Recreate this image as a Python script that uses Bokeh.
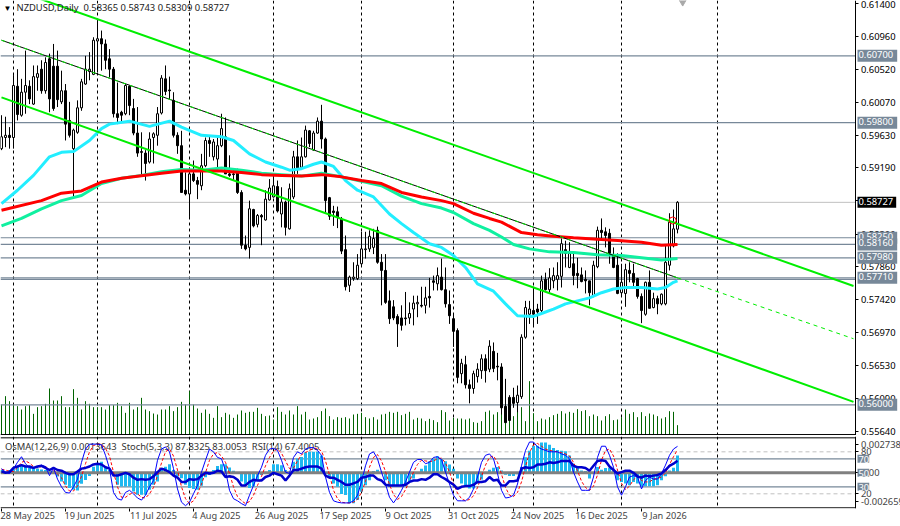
from bokeh.plotting import figure
from bokeh.layouts import column
from bokeh.models import FixedTicker, Label, Range1d, Span
from bokeh.core.properties import value
from bokeh.embed import file_html
from bokeh.resources import INLINE

# ---- data; prices in 1/10000 ----
opens = [5945,5960,5963,5960,6029,5990,6021,6029,6005,6041,
 6052,6023,6066,6056,6056,6008,6023,5983,5945,5967,
 6000,6032,6049,6045,6090,6093,6086,6066,6052,5992,
 5994,5992,6029,5999,5966,5941,5939,5927,5960,5963,
 5993,6039,6024,6010,5963,5949,5889,5884,5911,5902,
 5895,5922,5956,5934,5931,5949,5961,5911,5911,5916,
 5886,5815,5812,5863,5843,5855,5849,5876,5880,5894,
 5857,5873,5837,5880,5934,5920,5934,5969,5943,5966,
 5982,5958,5879,5861,5860,5850,5809,5761,5770,5770,
 5790,5809,5810,5812,5835,5792,5781,5740,5732,5719,
 5717,5717,5717,5729,5736,5734,5734,5746,5767,5763,
 5772,5755,5735,5716,5700,5642,5654,5627,5622,5638,
 5646,5662,5648,5672,5652,5651,5598,5610,5610,5603,
 5611,5691,5722,5727,5729,5727,5769,5755,5767,5769,
 5773,5809,5785,5790,5777,5775,5769,5767,5747,5786,
 5835,5833,5831,5801,5788,5751,5750,5781,5777,5770,
 5746,5722,5765,5731,5743,5736,5736,5788,5814,5836.5]
highs = [5990,5988,5974,6044,6052,6039,6077,6037,6057,6057,
 6064,6068,6073,6086,6077,6050,6032,6008,5972,6010,
 6039,6070,6075,6095,6118,6104,6092,6079,6055,6034,
 5996,6032,6030,6012,6001,5967,5943,5967,5967,6001,
 6044,6057,6042,6021,5967,5969,5913,5920,5929,5907,
 5938,5960,5963,5958,5963,5992,5987,5936,5916,5918,
 5889,5828,5875,5864,5857,5857,5889,5904,5907,5902,
 5893,5875,5898,5942,5956,5960,5976,5970,5969,5987,
 6004,5960,5880,5868,5867,5853,5828,5774,5792,5803,
 5833,5833,5835,5837,5840,5803,5803,5754,5741,5722,
 5734,5752,5738,5747,5747,5759,5759,5771,5774,5785,
 5797,5785,5754,5723,5703,5662,5666,5634,5646,5656,
 5668,5668,5687,5684,5670,5656,5635,5613,5623,5626,
 5695,5740,5740,5759,5736,5774,5778,5784,5785,5792,
 5824,5821,5819,5804,5798,5785,5781,5767,5794,5840,
 5851,5839,5837,5812,5804,5790,5790,5792,5790,5771,
 5750,5766,5781,5751,5747,5750,5815,5858,5863,5874.3]
lows = [5943,5947,5945,5945,5983,5988,5992,6005,6004,6023,
 6019,6019,5994,5996,6001,6005,5956,5960,5880,5965,
 5996,6031,6037,6044,6048,6050,6052,6041,5987,5978,
 5981,5990,5990,5963,5934,5909,5902,5925,5925,5949,
 5991,6017,6012,5960,5938,5886,5882,5853,5900,5877,
 5889,5920,5934,5929,5916,5947,5911,5907,5902,5884,
 5810,5808,5797,5839,5839,5815,5848,5875,5879,5859,
 5839,5828,5836,5877,5911,5918,5933,5947,5942,5965,
 5945,5859,5849,5841,5838,5803,5754,5752,5767,5768,
 5788,5797,5806,5803,5790,5734,5736,5709,5714,5678,
 5700,5707,5709,5707,5718,5731,5723,5731,5754,5754,
 5754,5731,5709,5678,5629,5629,5622,5602,5615,5630,
 5635,5630,5644,5644,5633,5587,5576,5579,5596,5590,
 5608,5689,5709,5707,5709,5725,5754,5751,5757,5754,
 5758,5785,5784,5761,5757,5765,5750,5734,5745,5784,
 5821,5812,5790,5784,5749,5747,5732,5765,5758,5743,
 5710,5720,5730,5730,5722,5734,5734,5781,5812,5830.9]
closes = [5961,5963,5960,6030,5991,6021,6030,6012,6042,6046,
 6023,6061,6012,5999,6011,6023,5978,5963,5970,6000,
 6035,6052,6052,6091,6093,6086,6064,6052,5992,5987,
 5990,6030,6003,5966,5939,5940,5925,5958,5965,5992,
 6040,6022,6023,5963,5949,5886,5884,5911,5902,5897,
 5922,5956,5952,5954,5949,5972,5911,5909,5910,5886,
 5815,5810,5864,5841,5855,5853,5877,5892,5895,5861,
 5873,5839,5891,5934,5919,5934,5970,5952,5966,5982,
 5958,5875,5854,5859,5853,5807,5759,5772,5772,5788,
 5810,5810,5827,5824,5792,5781,5738,5716,5717,5709,
 5707,5716,5723,5737,5738,5733,5744,5744,5765,5774,
 5755,5736,5720,5699,5637,5656,5627,5622,5642,5648,
 5662,5646,5679,5649,5651,5596,5576,5579,5602,5613,
 5691,5731,5729,5722,5725,5767,5755,5771,5774,5774,
 5817,5804,5804,5774,5774,5766,5767,5751,5788,5835,
 5832,5828,5804,5785,5750,5765,5782,5777,5765,5746,
 5727,5765,5730,5743,5736,5749,5792,5846,5837,5872.7]
volumes = [93,118,103,91,88,78,88,91,65,85,88,95,141,105,105,118,85,85,139,113,
 78,103,95,85,85,85,78,91,91,98,88,68,98,78,85,113,78,73,66,63,
 78,78,88,73,85,101,93,133,93,81,68,78,65,53,88,55,68,63,53,63,
 75,68,71,71,83,65,58,60,48,85,71,63,75,63,88,
 63,71,48,51,55,73,81,58,48,55,53,55,51,63,65,68,55,51,55,48,
 63,65,71,68,71,61,65,71,48,53,51,43,50,46,40,76,70,45,53,51,
 51,48,51,40,38,43,71,75,63,70,88,78,78,58,73,85,43,163,67,43,
 51,48,55,61,65,73,66,71,68,79,73,76,58,63,58,
 45,58,64,46,48,55,78,65,70,55,70,58,66,63,58,51,55,73,71,31]
osma = [10,5,10,15,22,22,20,18,18,15,12,10,8,8,-10,-25,-35,-45,-50,-52,
 -32,-20,-8,20,30,35,20,10,-5,-35,-40,-40,-40,-55,-65,-65,-65,-50,-35,-25,
 10,20,28,10,-10,-15,-35,-45,-48,-50,-38,-12,-5,10,22,28,28,18,8,0,
 -25,-35,-45,-40,-20,-5,5,10,28,28,25,10,5,35,45,
 50,64,66,66,66,54,4,-11,-31,-41,-63,-66,-91,-91,-81,-56,-36,-21,7,11,
 1,-21,-41,-39,-39,-36,-39,-26,-16,4,14,24,37,44,52,44,37,27,14,-16,
 -31,-41,-46,-46,-31,-19,-1,11,17,19,9,-4,-8,-8,-3,19,49,69,84,84,
 94,94,87,77,71,69,67,54,29,19,9,7,-16,-1,19,
 11,16,17,9,-21,-26,-31,-36,-26,-31,-41,-39,-39,-39,-36,-21,-9,9,17,54]
stoch_main = [56,51,49,56,65,73,63,57,57,58,61,59,46,57,41,30,22,21,30,41,
 65,84,91,91,91,90,75,56,22,13,11,22,25,20,14,11,18,30,39,68,
 84,87,80,56,27,8,3,8,20,32,51,68,84,80,72,70,53,25,13,10,
 6,3,18,32,46,58,75,84,85,82,68,51,49,72,80,
 77,84,86,86,82,75,44,22,10,8,7,7,7,10,18,37,60,77,80,70,
 51,34,15,7,15,25,37,51,65,69,69,63,65,72,73,69,51,34,18,10,
 10,10,15,27,44,65,75,77,70,49,25,14,15,18,34,60,82,94,94,87,
 84,82,80,80,80,77,75,70,51,37,25,25,25,44,72,
 88,88,75,58,30,18,30,44,46,44,27,39,44,41,41,49,61,75,84,87.83]
stoch_signal = [55,54,52,52,57,65,67,64,59,57,59,59,55,54,48,43,31,24,24,31,
 45,63,80,89,91,91,85,74,51,30,15,15,19,22,20,15,14,20,29,46,
 64,80,84,74,54,30,13,6,10,20,34,50,68,77,79,74,65,49,30,16,
 10,6,9,18,32,45,60,72,81,84,78,67,56,57,67,
 76,79,82,85,85,81,67,47,25,13,8,7,7,8,12,22,38,58,72,76,
 67,52,33,19,12,16,26,38,51,62,68,67,66,67,70,71,64,51,34,21,
 13,10,12,17,29,45,61,72,74,65,48,29,18,16,22,37,59,79,90,92,
 88,84,82,81,80,79,77,74,65,53,38,29,25,31,47,
 68,82,84,74,54,35,26,31,40,45,39,37,37,41,42,44,50,62,73,83.01]
rsi = [52,50,51,57,59,61,59,59,57,59,60,57,54,57,54,53,50,48,48,52,
 56,57,59,62,63,62,58,56,46,46,48,50,48,43,40,41,40,41,45,51,
 56,54,51,46,43,37,37,41,40,41,46,50,49,50,53,52,44,45,44,40,
 32,32,37,40,39,39,44,46,50,48,46,39,46,54,54,
 56,58,59,59,59,56,46,43,43,40,37,33,33,35,37,43,44,46,46,41,
 39,33,32,32,32,32,33,37,39,39,41,40,43,48,48,44,41,37,33,27,
 30,31,31,33,37,37,38,44,39,40,32,32,38,38,39,56,58,57,58,62,
 62,63,65,64,65,67,67,67,60,58,58,57,53,60,67,
 68,67,59,54,49,51,53,53,50,45,43,46,45,46,47,49,54,60,63,67.4]

red_bars = [0,10,15,20,25,30,40,45,50,55,60,65,70,75,80,85,90,95,100,105,110,113,118,122,125,130,134,138,143,149,155,160,165,169]
red_ma = [5862,5875,5885,5888,5900,5905,5912,5915,5915,5915,5913,5910,5909,5908,5910,5907,5902,5898,5886,5880,5875,5871,5858,5851,5846,5832,5829,5827,5825,5823,5821,5819,5815,5816]
spring_bars = [0,5,10,15,20,25,30,35,40,45,50,55,60,65,70,75,80,85,90,95,100,105,110,113,118,122,125,128,132,137,143,149,155,160,165,169]
spring_ma = [5841,5851,5864,5875,5882,5898,5905,5909,5914,5917,5916,5919,5916,5912,5910,5908,5912,5907,5901,5895,5881,5871,5865,5859,5844,5835,5826,5816,5810,5806,5805,5802,5801,5798,5795,5797]
aqua_bars = [0,4,8,12,15,18,22,25,27,32,37,42,45,50,55,58,62,66,70,72,75,78,80,83,86,89,93,97,100,103,107,110,113,116,119,123,126,129,133,135,138,141,144,147,150,153,156,160,164,166,168,169]
aqua_ma = [5871,5889,5909,5934,5940,5941,5956,5972,5978,5982,5975,5982,5974,5963,5961,5956,5938,5927,5920,5916,5918,5924,5927,5921,5902,5889,5880,5857,5844,5832,5817,5812,5801,5785,5763,5753,5736,5720,5719,5723,5729,5736,5740,5744,5751,5756,5758,5758,5756,5758,5765,5767]

channel_bars = [0, 213]
channel_upper = [6165, 5760]
channel_lower = [6014, 5604]
mid_solid_bars = [0, 169]
mid_solid = [6091, 5771]
mid_dash_bars = [169, 213]
mid_dash = [5771, 5689]

levels_slate = [0.6070, 0.5980, 0.5825, 0.5816, 0.5798, 0.5771, 0.5769, 0.5600]
level_last = 0.58727
period_bars = [3, 24, 47, 68, 90, 113, 133, 155, 179]
price_ticks = [0.6140, 0.6096, 0.6052, 0.6007, 0.5963, 0.5919, 0.5875, 0.5830, 0.5786, 0.5742, 0.5697, 0.5653, 0.5609, 0.5564]
date_bars = [0, 16, 32, 48, 64, 80, 96, 112, 128, 144, 160]
date_labels = ["28 May 2025", "19 Jun 2025", "11 Jul 2025", "4 Aug 2025", "26 Aug 2025", "17 Sep 2025",
               "9 Oct 2025", "31 Oct 2025", "24 Nov 2025", "16 Dec 2025", "9 Jan 2026"]
tags = [(0.6070, "0.60700"), (0.5980, "0.59800"), (0.5825, "0.58250"), (0.5816, "0.58160"),
        (0.5798, "0.57980"), (0.5771, "0.57710"), (0.5600, "0.56000")]
title_text = "NZDUSD,Daily\u00a0 0.58365 0.58743 0.58309 0.58727"
osc_text = "OsMA(12,26,9) 0.0013643\u00a0 Stoch(5,3,3) 87.8325 83.0053\u00a0 RSI(14) 67.4005"
osma_unit = 0.0000253
osma_min, osma_max = -0.002659, 0.0027386
circle_bar, circle_price = [167.8], [0.58482]
arrow_bar, arrow_price = [170.3], [0.61440]

# ---- style ----
FONT = "Noto Sans"
LABEL_PT = "9.4px"
SLATE = "#778899"
X0 = -0.25
X1 = X0 + 900 / 4
AX = 213.6

def px(a):
    return [v / 10000 for v in a]

O, H, L, C = px(opens), px(highs), px(lows), px(closes)
idx = list(range(len(O)))

pa = figure(width=900, height=435, output_backend="svg", toolbar_location=None, tools="",
            x_range=Range1d(X0, X1), y_range=Range1d(0.55587, 0.61445),
            x_axis_location=None, y_axis_location="right",
            min_border_left=0, min_border_right=0, min_border_top=0, min_border_bottom=0,
            background_fill_color="white", border_fill_color="white", outline_line_color=None)
pa.grid.visible = False
ya = pa.yaxis[0]
ya.fixed_location = AX
ya.ticker = FixedTicker(ticks=price_ticks, minor_ticks=[])
ya.major_label_overrides = {t: f"{t:.5f}" for t in price_ticks}
ya.major_label_text_font = FONT
ya.major_label_text_font_size = LABEL_PT
ya.major_label_text_color = "black"
ya.major_tick_in = 0
ya.major_tick_out = 3
ya.major_label_standoff = 2
ya.axis_line_color = "black"

# volume
pa.extra_y_ranges = {"vol": Range1d(0, 1305)}
pa.segment(idx, [0] * len(idx), idx, volumes, y_range_name="vol", line_color="#006400", line_width=1)

# levels
for b in period_bars:
    pa.add_layout(Span(location=b, dimension="height", line_color="black", line_width=1, line_dash="3 3", level="underlay"))
pa.segment([X0] * len(levels_slate), levels_slate, [AX] * len(levels_slate), levels_slate, line_color=SLATE, line_width=1.2)
pa.segment([X0], [level_last], [AX], [level_last], line_color="#C0C0C0", line_width=1)
pa.segment([X0], [0.5560], [AX], [0.5560], line_color="black", line_width=1)

# candles
pa.segment(idx, L, idx, H, line_color="black", line_width=1)
up = [i for i in idx if C[i] >= O[i]]
dn = [i for i in idx if C[i] < O[i]]
pa.vbar(up, 0.5, [O[i] for i in up], [C[i] for i in up], fill_color="white", line_color="black", line_width=1)
pa.vbar(dn, 0.5, [O[i] for i in dn], [C[i] for i in dn], fill_color="black", line_color="black", line_width=1)

# moving averages
pa.line(aqua_bars, px(aqua_ma), line_color="#22EEFF", line_width=3)
pa.line(spring_bars, px(spring_ma), line_color="#10F0A0", line_width=3)
pa.line(red_bars, px(red_ma), line_color="#FF0000", line_width=3)

# channel
pa.line(channel_bars, px(channel_upper), line_color="#00EE00", line_width=2)
pa.line(channel_bars, px(channel_lower), line_color="#00EE00", line_width=2)
pa.line(mid_solid_bars, px(mid_solid), line_color="black", line_width=1)
pa.line(mid_solid_bars, px(mid_solid), line_color="#00EE00", line_width=1, line_dash="4 4")
pa.line(mid_dash_bars, px(mid_dash), line_color="#00EE00", line_width=1, line_dash="4 4")

pa.scatter(circle_bar, circle_price, marker="circle", size=7, fill_color=None, line_color="red", line_width=1)
pa.scatter(arrow_bar, arrow_price, marker="inverted_triangle", size=9, fill_color="#A9A9A9", line_color="#A9A9A9")

pa.add_layout(Label(x=3, x_units="screen", y=0.61352, text="\u25bc", text_font=FONT, text_font_size="8px",
                    text_color="black", text_baseline="middle"))
pa.add_layout(Label(x=16, x_units="screen", y=0.61352, text=title_text, text_font=FONT, text_font_size=LABEL_PT,
                    text_color="#222222", text_baseline="middle"))

def tag(fig, y, text, left, bg, pad):
    fig.add_layout(Label(x=left, x_units="screen", y=y, text=text, text_font=FONT, text_font_size=LABEL_PT,
                         text_color="white", text_baseline="middle", background_fill_color=bg,
                         padding=pad))

for y, t in tags:
    tag(pa, y, t, 857, SLATE, (1, 4, 1, 4))
tag(pa, level_last, f"{level_last:.5f}", 857, "black", (1, 3, 1, 3))

# ---- oscillator pane ----
pb = figure(width=900, height=91, output_backend="svg", toolbar_location=None, tools="",
            x_range=pa.x_range, y_range=Range1d(-1, 101.9),
            y_axis_location="right",
            min_border_left=0, min_border_right=0, min_border_top=1, min_border_bottom=18,
            background_fill_color="white", border_fill_color="white", outline_line_color=None)
pb.grid.visible = False
pb.extra_y_ranges = {"osma": Range1d(osma_min - 0.00005, osma_max + 0.0001)}

yb = pb.yaxis[0]
yb.fixed_location = AX
osc_ticks = [91, 80, 50, 20, 9.7]
yb.ticker = FixedTicker(ticks=osc_ticks, minor_ticks=[])
yb.major_label_overrides = {91: "0.0027386", 80: "80", 50: "0.00", 20: "20", 9.7: "-0.002659"}
yb.major_label_text_font = FONT
yb.major_label_text_font_size = LABEL_PT
yb.major_tick_in = 0
yb.major_tick_out = 3
yb.major_label_standoff = 2

xb = pb.xaxis[0]
shifts = [(5.75 if len(t) == 10 else 6.0) for t in date_labels]
centres = [b + s for b, s in zip(date_bars, shifts)]
xb.ticker = FixedTicker(ticks=centres, minor_ticks=date_bars)
xb.major_label_overrides = dict(zip(centres, date_labels))
xb.major_label_text_font = FONT
xb.major_label_text_font_size = "9.2px"
xb.major_tick_in = 0
xb.major_tick_out = 0
xb.minor_tick_in = 0
xb.minor_tick_out = 3
xb.major_label_standoff = -3
xb.axis_line_color = None

pb.text([0.875], [88], text=[osc_text], text_font=value(FONT), text_font_size=LABEL_PT, text_color="#333333",
        text_baseline="middle")

for lv in (80, 20):
    pb.segment([X0], [lv], [AX], [lv], line_color="#C0C0C0", line_width=1, line_dash="4 3")
for lv in (70, 30):
    pb.segment([X0], [lv], [AX], [lv], line_color=SLATE, line_width=1.2)
for b in period_bars:
    pb.add_layout(Span(location=b, dimension="height", line_color="black", line_width=1, line_dash="3 3", level="underlay"))
pb.segment([X0, X0], [100, 0], [AX, AX], [100, 0], line_color="black", line_width=1)

pb.vbar(idx, 0.75, [0] * len(idx), [v * osma_unit for v in osma], y_range_name="osma",
        fill_color="#1EB9F0", line_color=None)
pb.segment([X0], [50], [AX], [50], line_color="#808080", line_width=3)
pb.line(idx, stoch_signal, line_color="red", line_width=1, line_dash="3 2")
pb.line(idx, stoch_main, line_color="#0000FF", line_width=1)
pb.line(idx, rsi, line_color="#0000CD", line_width=2.5)

for lv in (70, 50, 30):
    tag(pb, lv, str(lv), 857, SLATE, (1, 0, 1, 0))

layout = column(pa, pb, spacing=0)
open("out.html", "w").write(file_html(layout, INLINE))
